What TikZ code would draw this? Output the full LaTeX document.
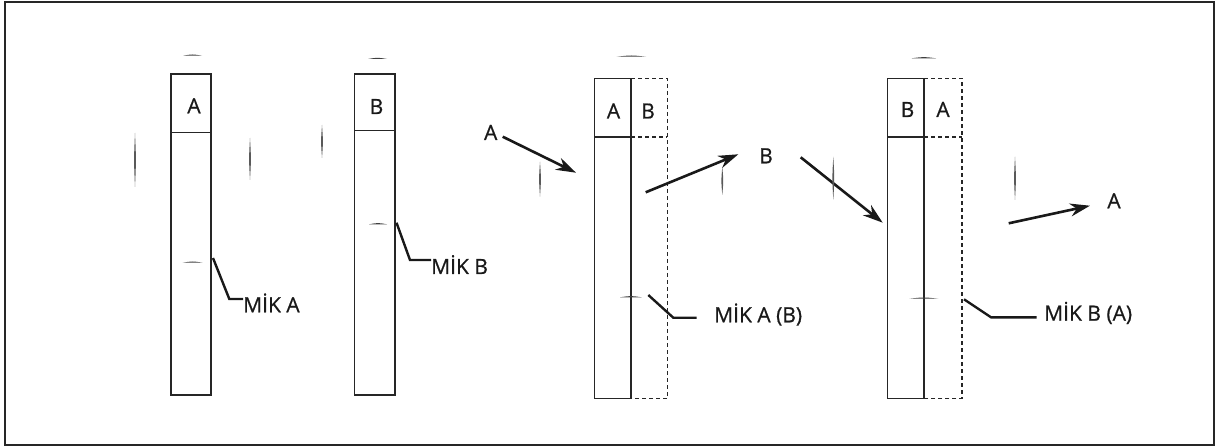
\documentclass[tikz,border=0pt]{standalone}
\usepackage{fontspec}
\setmainfont{Open Sans}
\newfontfamily\lblfont{Open Sans}[FakeBold=0.7]
\usetikzlibrary{arrows.meta}
\newcommand\hmk[3]{\fill[black!75] (#1,#3) .. controls ({(#1+#2)/2},{#3-1.6}) .. (#2,#3) .. controls ({(#1+#2)/2},{#3+0.7}) .. (#1,#3);}
\newcommand\vmk[3]{\fill[black!65] (#1,#2) .. controls ({#1-1.2},{(#2+#3)/2}) .. (#1,#3) .. controls ({#1+1.2},{(#2+#3)/2}) .. (#1,#2);}
\begin{document}
\begin{tikzpicture}[x=1pt,y=-1pt,
 box/.style={draw=black!85, line width=1.3pt},
 dbox/.style={draw=black!85, line width=1.3pt, dash pattern=on 4pt off 3pt},
 lbl/.style={font=\lblfont\fontsize{21}{25}\selectfont, text=black!90, inner sep=0pt, anchor=base},
 mik/.style={font=\lblfont\fontsize{21}{25}\selectfont, text=black!90, inner sep=0pt, anchor=base west},
 leader/.style={draw=black!90, line width=2.4pt},
 arr/.style={draw=black!90, line width=2.6pt, -{Stealth[length=20pt,width=13pt]}},
]
\useasboundingbox (0,0) rectangle (1215,446);
\draw[line width=2pt, black!85] (4.5,2) rectangle (1213.5,444.5);

% column 1
\draw[box] (171,74) rectangle (211,395);
\draw[box] (171,132.5) -- (211,132.5);
\node[lbl] (c1a) at (194,113.3) {A};
% column 2
\draw[box] (354.5,74) rectangle (395,395);
\draw[box] (354.5,130.5) -- (395,130.5);
\node[lbl] (c2b) at (376.5,114) {B};
% column 3
\draw[box] (594.3,78.3) rectangle (631,398.7);
\draw[box] (594.3,137) -- (631,137);
\draw[dbox] (631,78.3) -- (667.3,78.3) -- (667.3,398.7) -- (631,398.7);
\draw[dbox] (631,137) -- (667.3,137);
\node[lbl] (c3a) at (613.5,118.5) {A};
\node[lbl] (c3b) at (648,118.5) {B};
% column 4
\draw[box] (887.3,78.3) rectangle (924,398.7);
\draw[box] (887.3,137) -- (924,137);
\draw[dbox] (924,78.3) -- (962,78.3) -- (962,398.7) -- (924,398.7);
\draw[dbox] (924,137) -- (962,137);
\node[lbl] (c4b) at (907.5,117) {B};
\node[lbl] (c4a) at (943,117) {A};

% leaders and labels
\node[mik] (m1) at (243,312.3) {MİK A};
\draw[leader] (213,258) -- (229.3,299) -- (m1.west |- 0,299);
\node[mik] (m2) at (431,274) {MİK B};
\draw[leader] (396.5,222.7) -- (410,260) -- (m2.west |- 0,260);
\node[mik] (m3) at (714,322.3) {MİK A (B)};
\coordinate (l3) at (696.7,317.7);
\draw[leader] (648.3,295) -- (673.3,317.7) -- (l3);
\node[mik] (m4) at (1044,320.7) {MİK B (A)};
\coordinate (l4) at (1036.7,317.3);
\draw[leader] (964,299.3) -- (991,317.3) -- (l4);

% arrows
\node[lbl] (inA) at (490.7,140) {A};
\coordinate (t1) at (576,172.7);
\draw[arr] (502.7,136.7) -- (t1);
\node[lbl] (outB) at (766,163.3) {B};
\coordinate (s2) at (645.7,192.3);
\draw[arr] (s2) -- (738.3,154.3);
\coordinate (s3) at (800.7,157.3);
\coordinate (t3) at (882.7,222.7);
\draw[arr] (s3) -- (t3);
\node[lbl] (outA) at (1114,208.3) {A};
\coordinate (s4) at (1008.7,223.3);
\draw[arr] (s4) -- (1090,205.7);

% faint marks
\hmk{183}{202}{55.7}
\vmk{135}{133}{187}
\vmk{250}{138}{180}
\hmk{368}{387}{59}
\vmk{322}{125}{158}
\hmk{182.7}{202.7}{262.7}
\hmk{369}{387}{224.3}
\hmk{616.7}{646}{56.7}
\vmk{540}{161.7}{196.7}
\vmk{722.3}{166.7}{195}
\hmk{620}{641.7}{297.3}
\hmk{911.7}{936}{58.3}
\vmk{833.3}{156.7}{200}
\vmk{1015}{156.7}{200}
\hmk{909.3}{938.3}{298.7}
\end{tikzpicture}
\end{document}
